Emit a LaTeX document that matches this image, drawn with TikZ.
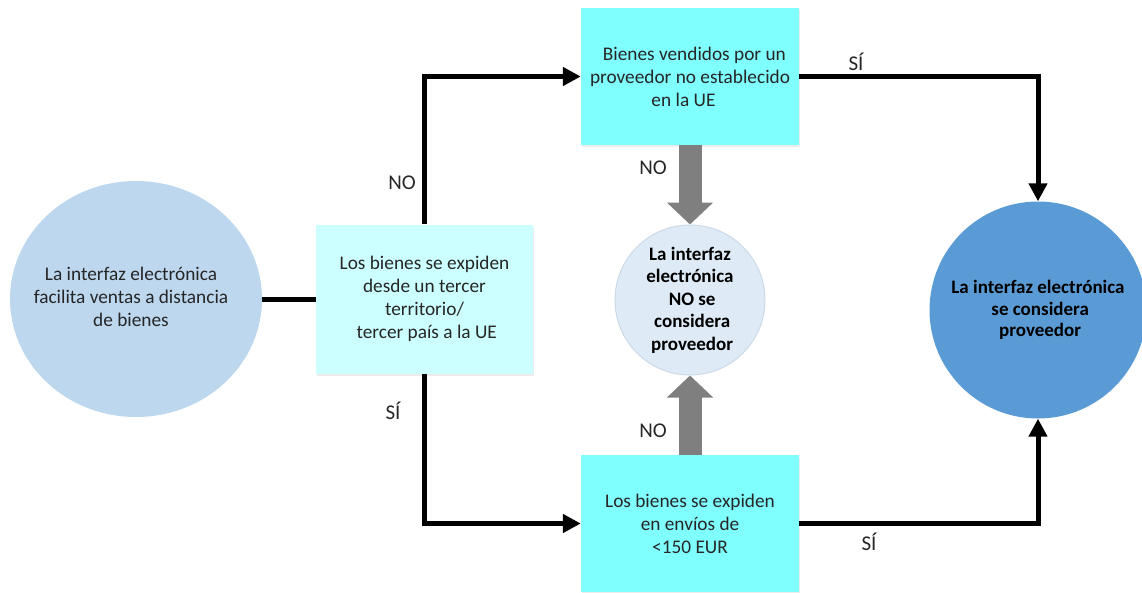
\documentclass[tikz,border=0pt]{standalone}
\usepackage{fontspec}
\setmainfont{Carlito}
\usetikzlibrary{arrows.meta,shapes.geometric,shadows}
\definecolor{boxlight}{HTML}{CCFFFF}
\definecolor{boxcyan}{HTML}{80FFFF}
\definecolor{circlight}{HTML}{BDD7EE}
\definecolor{circpale}{HTML}{DEEBF7}
\definecolor{circpaleedge}{HTML}{CBD9E8}
\definecolor{circblue}{HTML}{5B9BD5}
\definecolor{arrowgray}{HTML}{7F7F7F}
\definecolor{textdark}{HTML}{262626}
\tikzset{
  txt/.style={font=\fontsize{19.3pt}{23pt}\selectfont, text=textdark, align=center, inner sep=0pt},
  boxnode/.style={txt, rectangle, minimum width=218pt, minimum height=137pt,
    drop shadow={shadow xshift=1pt, shadow yshift=-2pt, fill=black!12, opacity=0.6}},
  conn/.style={line width=5pt, black, line join=miter},
  arr/.style={conn, -{Triangle[length=18pt 0 1, width=18pt 0 1]}},
  grayarr/.style={line width=23pt, arrowgray, -{Triangle[length=22pt 0 1, width=45pt 0 1]}},
  lbl/.style={font=\fontsize{21pt}{24pt}\selectfont, text=textdark, inner sep=0pt}
}
\begin{document}
\begin{tikzpicture}[x=1pt,y=-1pt]
\useasboundingbox (0,0) rectangle (1142,592);
% nodes
\node[ellipse, fill=circlight, inner sep=0pt, minimum width=252pt, minimum height=236pt,
  label={[txt, xshift=-5pt, yshift=2pt]center:La interfaz electrónica\\facilita ventas a distancia\\de bienes}] (c1) at (136,299) {};
\node[boxnode, fill=boxlight, minimum width=217pt, minimum height=149pt] (b1) at (424.5,299)
  {Los bienes se expiden\\desde un tercer\\territorio/\\\ tercer país a la UE};
\node[boxnode, fill=boxcyan] (b2) at (690,76.5)
  {\ \ Bienes vendidos por un\\proveedor no establecido\\en la UE\ \ \ \ };
\node[boxnode, fill=boxcyan] (b3) at (690,523.5)
  {Los bienes se expiden\\en envíos de\\<150 EUR};
\node[txt, circle, fill=circpale, draw=circpaleedge, line width=1pt, minimum size=150pt, font=\fontsize{19pt}{22.5pt}\selectfont\bfseries, text=black] (mid) at (690,300)
  {La interfaz\\electrónica\\\ NO se\\\ considera\\\ proveedor};
\node[txt, circle, fill=circblue, minimum size=217pt, font=\fontsize{19pt}{21.5pt}\selectfont\bfseries, text=black] (c3) at (1038,310)
  {La interfaz electrónica\\\ se considera\\\ proveedor};
% connectors
\draw[conn] (c1.east) -- (b1.west);
\draw[arr] (b1.north) |- (b2.west);
\draw[arr] (b1.south) |- (b3.west);
\draw[arr] (b2.east) -| (c3.north);
\draw[arr] (b3.east) -| (c3.south);
\draw[grayarr] (b2.south) -- (mid.north);
\draw[grayarr] (b3.north) -- (mid.south);
% labels
\node[lbl] (lno1) at (402,183) {NO};
\node[lbl] (lsi1) at (393,411) {SÍ};
\node[lbl] (lno2) at (653,168) {NO};
\node[lbl] (lno3) at (653,431) {NO};
\node[lbl] (lsi2) at (856,62) {SÍ};
\node[lbl] (lsi3) at (869,542) {SÍ};
\end{tikzpicture}
\end{document}
